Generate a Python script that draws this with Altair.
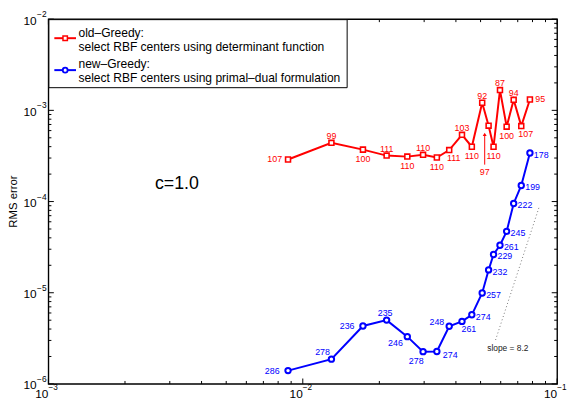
import altair as alt
import pandas as pd

FONT = "Liberation Sans"
W, H = 516, 370

# ---- data ----
h_fill = [0.00875, 0.01296, 0.01724, 0.02136, 0.02576, 0.02971, 0.03366, 0.03764, 0.04226,
          0.04620, 0.05074, 0.05377, 0.05623, 0.05960, 0.06331, 0.06747, 0.07227, 0.07816]
old_err = [2.89e-4, 4.40e-4, 3.71e-4, 3.19e-4, 3.11e-4, 3.25e-4, 3.04e-4, 3.67e-4, 5.39e-4,
           3.99e-4, 1.213e-3, 6.79e-4, 3.99e-4, 1.668e-3, 6.62e-4, 1.305e-3, 6.72e-4, 1.315e-3]
old_n = [107, 99, 100, 111, 110, 110, 110, 111, 103, 110, 92, 97, 110, 87, 100, 94, 107, 95]
old_pos = ["l", "a", "b", "a", "b", "a", "b", "br", "a", "b", "a", "none", "b", "a", "b", "a", "br", "r"]

new_err = [1.40e-6, 1.87e-6, 4.32e-6, 5.01e-6, 3.30e-6, 2.26e-6, 2.27e-6, 4.29e-6, 4.85e-6,
           5.73e-6, 9.94e-6, 1.78e-5, 2.63e-5, 3.32e-5, 4.71e-5, 9.53e-5, 1.50e-4, 3.41e-4]
new_n = [286, 278, 236, 235, 246, 278, 274, 248, 261, 274, 257, 232, 229, 261, 245, 222, 199, 178]
new_pos = ["l", "al", "l", "a", "bl", "b", "br", "ul", "b2", "r", "r", "r", "r", "r", "r", "r", "r", "r"]

arrow_x = [0.0519, 0.0519]
arrow_y = [2.54e-4, 5.45e-4]
arrow_label = "97"
arrow_label_y = 2.12e-4

slope_x = [0.05727, 0.08479]
slope_y = [3.035e-6, 8.56e-5]
slope_label = "slope = 8.2"
slope_label_x, slope_label_y = 0.064, 2.49e-6

c_label = "c=1.0"
c_label_x, c_label_y = 0.0032, 1.54e-4

x_major = [0.001, 0.01, 0.1]
x_exp = ["\u22123", "\u22122", "\u22121"]
y_major = [1e-6, 1e-5, 1e-4, 1e-3, 1e-2]
y_exp = ["\u22126", "\u22125", "\u22124", "\u22123", "\u22122"]
mult = [2, 3, 4, 5, 6, 7, 8, 9]
x_minor = [m * d for d in [0.001, 0.01] for m in mult]
y_minor = [m * d for d in [1e-6, 1e-5, 1e-4, 1e-3] for m in mult]

legend_lines = ["old\u2013Greedy:", "select RBF centers using determinant function",
                "new\u2013Greedy:", "select RBF centers using primal\u2013dual formulation"]

# ---- styles ----
RED, BLUE = "#ff0000", "#0000ff"
red_place = {"l": (-6, 0, "right"), "a": (0, -7, "center"), "b": (0, 9.5, "center"),
             "br": (4.5, 8.5, "center"), "r": (5.5, 0, "left")}
blue_place = {"l": (-8.5, 0, "right"), "al": (-9, -7, "center"), "a": (-1.5, -7, "center"),
              "bl": (-12, 6, "center"), "b": (-7, 10, "center"), "br": (6, 4, "left"),
              "ul": (-5, -4, "right"), "b2": (7, 8, "center"), "r": (4, 2, "left")}

xs = alt.Scale(type="log", domain=[1e-3, 1e-1], nice=False)
ys = alt.Scale(type="log", domain=[1e-6, 1e-2], nice=False)


def X(f="h"):
    return alt.X(f"{f}:Q", scale=xs, axis=None)


def Y(f="e"):
    return alt.Y(f"{f}:Q", scale=ys, axis=None)


old_df = pd.DataFrame({"h": h_fill, "e": old_err, "n": old_n, "pos": old_pos})
new_df = pd.DataFrame({"h": h_fill, "e": new_err, "n": new_n, "pos": new_pos})

layers = []

# slope guide
slope_df = pd.DataFrame({"h": slope_x, "e": slope_y})
layers.append(alt.Chart(slope_df).mark_line(color="#777777", strokeWidth=1, strokeDash=[1, 2.5]).encode(x=X(), y=Y()))
layers.append(alt.Chart(pd.DataFrame({"h": [slope_label_x], "e": [slope_label_y]})).mark_text(
    text=slope_label, font=FONT, fontSize=8.5, color="#222222", align="center", baseline="middle").encode(x=X(), y=Y()))

# series lines and markers
for df, col, shape, size, sw in [(old_df, RED, "square", 25, 1.6), (new_df, BLUE, "circle", 30, 2)]:
    layers.append(alt.Chart(df).mark_line(color=col, strokeWidth=2).encode(x=X(), y=Y(), order="h:Q"))
    layers.append(alt.Chart(df).mark_point(shape=shape, size=size, filled=True, fill="white", stroke=col,
                                           strokeWidth=sw, opacity=1).encode(x=X(), y=Y()))

# point labels
for df, places, col in [(old_df, red_place, RED), (new_df, blue_place, BLUE)]:
    for code, (dx, dy, align) in places.items():
        layers.append(alt.Chart(df).transform_filter(alt.datum.pos == code).mark_text(
            dx=dx, dy=dy, align=align, baseline="middle", fontSize=9, font=FONT, color=col
        ).encode(x=X(), y=Y(), text="n:N"))

# arrow for 97
arr_df = pd.DataFrame({"h": [arrow_x[0]], "e": [arrow_y[0]], "e2": [arrow_y[1]]})
layers.append(alt.Chart(arr_df).mark_rule(color=RED, strokeWidth=1).encode(x=X(), y=Y(), y2="e2:Q"))
layers.append(alt.Chart(arr_df).mark_point(shape="triangle-up", size=16, filled=True, color=RED, opacity=1).encode(
    x=X(), y=alt.Y("e2:Q", scale=ys, axis=None)))
layers.append(alt.Chart(pd.DataFrame({"h": [arrow_x[0]], "e": [arrow_label_y]})).mark_text(
    text=arrow_label, font=FONT, fontSize=9, color=RED, align="center", baseline="middle").encode(x=X(), y=Y()))

# c=1.0
layers.append(alt.Chart(pd.DataFrame({"h": [c_label_x], "e": [c_label_y]})).mark_text(
    text=c_label, font=FONT, fontSize=18, color="black", align="center", baseline="middle").encode(x=X(), y=Y()))

# ticks (inward, all four sides)
xmaj = pd.DataFrame({"v": x_major, "ex": x_exp})
xmin = pd.DataFrame({"v": x_minor})
ymaj = pd.DataFrame({"v": y_major, "ex": y_exp})
ymin = pd.DataFrame({"v": y_minor})
for df, L in [(xmaj, 5.5), (xmin, 3)]:
    layers.append(alt.Chart(df).mark_rule(color="black", strokeWidth=1).encode(
        x=X("v"), y=alt.value(H), y2=alt.value(H - L)))
    layers.append(alt.Chart(df).mark_rule(color="black", strokeWidth=1).encode(
        x=X("v"), y=alt.value(0), y2=alt.value(L)))
for df, L in [(ymaj, 5.5), (ymin, 3)]:
    layers.append(alt.Chart(df).mark_rule(color="black", strokeWidth=1).encode(
        y=Y("v"), x=alt.value(0), x2=alt.value(L)))
    layers.append(alt.Chart(df).mark_rule(color="black", strokeWidth=1).encode(
        y=Y("v"), x=alt.value(W), x2=alt.value(W - L)))

# tick labels 10^k
layers.append(alt.Chart(xmaj).mark_text(text="10", font=FONT, fontSize=12, align="right", baseline="middle").encode(
    x=X("v"), y=alt.value(H + 10.5)))
layers.append(alt.Chart(xmaj).mark_text(font=FONT, fontSize=8.3, align="left", baseline="middle", dx=0).encode(
    x=X("v"), y=alt.value(H + 4.5), text="ex:N"))
layers.append(alt.Chart(ymaj).mark_text(text="10", font=FONT, fontSize=12, align="right", baseline="middle", dy=1.5).encode(
    y=Y("v"), x=alt.value(-12)))
layers.append(alt.Chart(ymaj).mark_text(font=FONT, fontSize=8.5, align="left", baseline="middle", dy=-5).encode(
    y=Y("v"), x=alt.value(-11.5), text="ex:N"))

# y title
one = alt.Data(values=[{"a": 1}])
layers.append(alt.Chart(one).mark_text(text="RMS error", font=FONT, fontSize=11.5, angle=270, align="center",
                                       baseline="middle").encode(x=alt.value(-35), y=alt.value(H / 2)))

# legend box
layers.append(alt.Chart(one).mark_rect(fill="white", stroke="black", strokeWidth=1).encode(
    x=alt.value(0.5), x2=alt.value(303), y=alt.value(0.5), y2=alt.value(69.5)))
for ly, col, shape, size, sw in [(19.3, RED, "square", 20, 1.5), (51.7, BLUE, "circle", 24, 1.8)]:
    layers.append(alt.Chart(one).mark_rule(color=col, strokeWidth=2).encode(
        x=alt.value(6), x2=alt.value(28), y=alt.value(ly)))
    layers.append(alt.Chart(one).mark_point(shape=shape, size=size, filled=True, fill="white", stroke=col,
                                            strokeWidth=sw, opacity=1).encode(x=alt.value(17), y=alt.value(ly)))
for txt, ty in zip(legend_lines, [14.5, 28.6, 45.6, 60.0]):
    layers.append(alt.Chart(one).mark_text(text=txt, font=FONT, fontSize=12.2, align="left", baseline="middle",
                                           color="black").encode(x=alt.value(30.5), y=alt.value(ty)))

chart = alt.layer(*layers).properties(
    width=W, height=H,
    autosize=alt.AutoSizeParams(type="none"),
    padding={"left": 41, "top": 8.5, "right": 10, "bottom": 15.5},
).configure_view(stroke="black", strokeWidth=1.4)

chart.save("out.html", embed_options={"renderer": "svg", "actions": False})
